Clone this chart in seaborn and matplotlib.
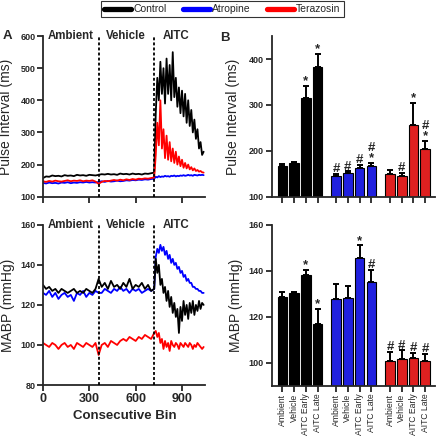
import numpy as np
import pandas as pd
import matplotlib
matplotlib.use("Agg")
import matplotlib.pyplot as plt
import seaborn as sns
from matplotlib.lines import Line2D

sns.set_style("ticks")
plt.rcParams["font.family"] = ["Liberation Sans", "DejaVu Sans"]

groups = ["Control", "Atropine", "Terazosin"]
colors = {"Control": "#000000", "Atropine": "#0000ff", "Terazosin": "#ff0000"}
phases = ["Ambient", "Vehicle", "AITC Early", "AITC Late"]

# consecutive bins: every 20 bins before AITC, every 10 bins after
bins = np.concatenate([np.arange(0, 721, 20), np.arange(730, 1041, 10)])

# ---------------- panel A: pulse interval traces (ms) ----------------
pi_control = [158, 163, 162, 166, 164, 165, 163, 167, 165, 166, 164, 168, 166, 167, 165, 168, 167, 166, 168,
              170, 169, 171, 169, 170, 168, 172, 170, 171, 169, 172, 170, 171, 169, 172, 171, 173, 175,
              360, 470, 400, 520, 420, 500, 390, 530, 420, 510, 400, 550, 410, 470, 380, 440,
              360, 430, 350, 420, 330, 400, 320, 370, 300, 340, 280, 310, 250, 270, 230, 240]
pi_atropine = [143, 141, 144, 142, 143, 141, 144, 143, 145, 142, 144, 143, 145, 144, 146, 144, 145, 144, 146,
               148, 146, 149, 147, 148, 150, 148, 149, 151, 150, 152, 151, 153, 152, 154, 153, 155, 156,
               162, 160, 164, 161, 163, 162, 165, 163, 164, 162, 165, 164, 166, 163, 165, 164,
               166, 165, 167, 165, 166, 168, 166, 167, 165, 168, 167, 166, 168, 167, 168, 167]
pi_terazosin = [148, 146, 149, 147, 150, 148, 147, 149, 151, 148, 150, 149, 151, 148, 150, 149, 151, 147, 140,
                146, 149, 148, 150, 152, 150, 153, 151, 154, 152, 155, 153, 156, 155, 157, 156, 158, 160,
                230, 330, 260, 400, 250, 310, 220, 290, 215, 270, 210, 250, 205, 240, 200, 225,
                195, 215, 190, 205, 188, 200, 185, 192, 182, 188, 180, 183, 178, 180, 176, 175]

# ---------------- panel A: MABP traces (mmHg) ----------------
mabp_control = [130, 128, 129, 127, 128, 126, 128, 127, 126, 127, 128, 126, 127, 126, 128, 127, 126, 128, 133,
                129, 131, 128, 132, 129, 130, 128, 131, 129, 133, 128, 130, 129, 131, 128, 130, 127, 128,
                143, 136, 140, 130, 133, 126, 129, 122, 127, 119, 124, 116, 121, 114, 118, 106,
                119, 112, 122, 115, 120, 113, 121, 116, 122, 115, 120, 117, 122, 118, 121, 120]
mabp_atropine = [126, 125, 127, 124, 126, 123, 125, 126, 124, 125, 122, 126, 125, 127, 124, 126, 125, 127, 126,
                 126, 128, 127, 126, 128, 127, 129, 127, 128, 126, 128, 127, 128, 126, 127, 128, 127, 128,
                 144, 148, 146, 150, 147, 149, 145, 147, 143, 145, 141, 143, 140, 141, 138, 139,
                 136, 137, 134, 135, 132, 133, 131, 131, 129, 129, 128, 128, 127, 127, 126, 126]
mabp_terazosin = [101, 100, 99, 101, 100, 98, 100, 101, 99, 100, 98, 101, 100, 99, 101, 100, 99, 101, 95,
                  100, 101, 99, 102, 101, 100, 102, 103, 102, 104, 103, 102, 104, 103, 105, 104, 103, 106,
                  107, 104, 106, 101, 103, 98, 102, 99, 101, 97, 102, 100, 99, 101, 100, 98,
                  101, 100, 99, 101, 100, 99, 101, 100, 98, 100, 99, 101, 100, 99, 98, 99]

# ---------------- panel B: group means and upper SEM ----------------
pi_mean_control = [167, 172.5, 315, 383.5]
pi_top_control = [171, 175, 341.5, 411]
pi_mean_atropine = [146, 152.5, 163, 167.5]
pi_top_atropine = [149.5, 155.5, 169, 173.5]
pi_mean_terazosin = [149.5, 146, 255.5, 204]
pi_top_terazosin = [159, 152.5, 304.5, 221]
pi_marks = [["", "", "*", "*"], ["#", "#", "#", "#\n*"], ["", "#", "*", "#\n*"]]

mabp_mean_control = [128.8, 130.2, 138.1, 116.9]
mabp_top_control = [130.7, 130.7, 140.4, 123.3]
mabp_mean_atropine = [127.6, 128.1, 145.7, 135.1]
mabp_top_atropine = [134.3, 133.6, 151.1, 140.4]
mabp_mean_terazosin = [100.9, 101.7, 102.2, 100.7]
mabp_top_terazosin = [104.8, 105.5, 104.4, 104.0]
mabp_marks = [["", "", "*", "*"], ["", "", "*", "#"], ["#", "#", "#", "#"]]

bar_pos = [0, 1, 2, 3, 4.6, 5.6, 6.6, 7.6, 9.2, 10.2, 11.2, 12.2]


def traces_df(c, a, t):
    parts = []
    for name, vals in zip(groups, [c, a, t]):
        parts.append(pd.DataFrame({"bin": bins, "value": vals, "group": name}))
    return pd.concat(parts, ignore_index=True)


def style_axis(ax):
    for s in ["top", "right"]:
        ax.spines[s].set_visible(False)
    for s in ["left", "bottom"]:
        ax.spines[s].set_linewidth(1.3)
    ax.tick_params(direction="out", length=4, width=1.3, pad=1.5)


def draw_traces(ax, df, ylim, yticks):
    sns.lineplot(data=df, x="bin", y="value", hue="group",
                 hue_order=["Atropine", "Control", "Terazosin"], palette=colors,
                 estimator=None, sort=False, lw=1.3, legend=False, ax=ax)
    ax.set_xlim(0, 1050)
    ax.set_ylim(*ylim)
    ax.set_xticks([0, 300, 600, 900])
    ax.set_yticks(yticks)
    for x in [360, 720]:
        ax.axvline(x, color="black", ls=(0, (1.6, 1.2)), lw=1.3, zorder=5)
    for x, s in zip([30, 405, 775], ["Ambient", "Vehicle", "AITC"]):
        ax.text(x, 1.0, s, transform=ax.get_xaxis_transform(), ha="left", va="center",
                fontsize=8.3, fontweight="bold")
    ax.set_xlabel("")
    style_axis(ax)
    for lab in ax.get_yticklabels():
        lab.set_fontsize(6.5)
        lab.set_fontweight("bold")


def draw_bars(ax, means, tops, marks, ylim, yticks):
    vals = sum(means, [])
    top = np.array(sum(tops, []))
    df = pd.DataFrame({"pos": bar_pos, "value": vals,
                       "group": [g for g in groups for _ in phases]})
    sns.barplot(data=df, x="pos", y="value", hue="group", hue_order=groups, palette=colors,
                native_scale=True, dodge=False, width=0.82, edgecolor="black", linewidth=0.8,
                errorbar=None, legend=False, ax=ax)
    ax.errorbar(bar_pos, vals, yerr=[np.zeros(len(vals)), top - np.array(vals)], fmt="none",
                ecolor="black", elinewidth=1.4, capsize=2.2, capthick=1.4, zorder=4)
    for p, t, m in zip(bar_pos, top, sum(marks, [])):
        if m:
            ax.annotate(m, (p, t), xytext=(0, -1.0), textcoords="offset points", ha="center",
                        va="bottom", fontsize=9.5, fontweight="bold", linespacing=0.8)
    ax.set_xlim(-0.92, 13.05)
    ax.set_ylim(*ylim)
    ax.set_yticks(yticks)
    ax.set_xticks(bar_pos)
    ax.set_xlabel("")
    style_axis(ax)
    for lab in ax.get_yticklabels():
        lab.set_fontsize(6.5)
        lab.set_fontweight("bold")


fig = plt.figure(figsize=(4.36, 4.40), dpi=100)
axA1 = fig.add_axes([0.0986, 0.553, 0.372, 0.365])
axA2 = fig.add_axes([0.0986, 0.125, 0.372, 0.364])
axB1 = fig.add_axes([0.623, 0.553, 0.375, 0.365])
axB2 = fig.add_axes([0.623, 0.123, 0.375, 0.366])

draw_traces(axA1, traces_df(pi_control, pi_atropine, pi_terazosin), (100, 600), range(100, 601, 100))
axA1.set_xticklabels([])
axA1.set_ylabel("Pulse Interval (ms)", fontsize=10)
axA1.yaxis.set_label_coords(-0.183, 0.5)

draw_traces(axA2, traces_df(mabp_control, mabp_atropine, mabp_terazosin), (80, 160), range(80, 161, 20))
axA2.set_xticklabels(["0", "300", "600", "900"], fontsize=9, fontweight="bold")
axA2.set_ylabel("MABP (mmHg)", fontsize=10)
axA2.yaxis.set_label_coords(-0.173, 0.5)
axA2.set_xlabel("Consecutive Bin", fontsize=9.5, fontweight="bold")
axA2.xaxis.set_label_coords(0.504, -0.156)

draw_bars(axB1, [pi_mean_control, pi_mean_atropine, pi_mean_terazosin],
          [pi_top_control, pi_top_atropine, pi_top_terazosin], pi_marks, (100, 450), [100, 200, 300, 400])
axB1.set_xticklabels([])
axB1.set_ylabel("Pulse Interval (ms)", fontsize=10)
axB1.yaxis.set_label_coords(-0.194, 0.5)

draw_bars(axB2, [mabp_mean_control, mabp_mean_atropine, mabp_mean_terazosin],
          [mabp_top_control, mabp_top_atropine, mabp_top_terazosin], mabp_marks, (90, 160),
          [100, 120, 140, 160])
axB2.set_xticklabels(phases * 3, rotation=90, fontsize=6.2)
axB2.set_ylabel("MABP (mmHg)", fontsize=10)
axB2.yaxis.set_label_coords(-0.176, 0.5)

fig.text(0.006, 1 - 36 / 440, "A", fontsize=9.5, fontweight="bold", va="center", ha="left")
fig.text(0.504, 1 - 38 / 440, "B", fontsize=9.5, fontweight="bold", va="center", ha="left")

handles = [Line2D([], [], color=colors[g], lw=3.8) for g in groups]
leg = fig.legend(handles, groups, loc="upper center", bbox_to_anchor=(0.51, 1.0), ncol=3,
                 fontsize=7.5, frameon=True, fancybox=False, edgecolor="black",
                 handlelength=2.6, handletextpad=0.25, columnspacing=1.5, borderpad=0.3,
                 borderaxespad=0.1)
leg.get_frame().set_linewidth(0.8)

fig.savefig("out.png", dpi=100)
